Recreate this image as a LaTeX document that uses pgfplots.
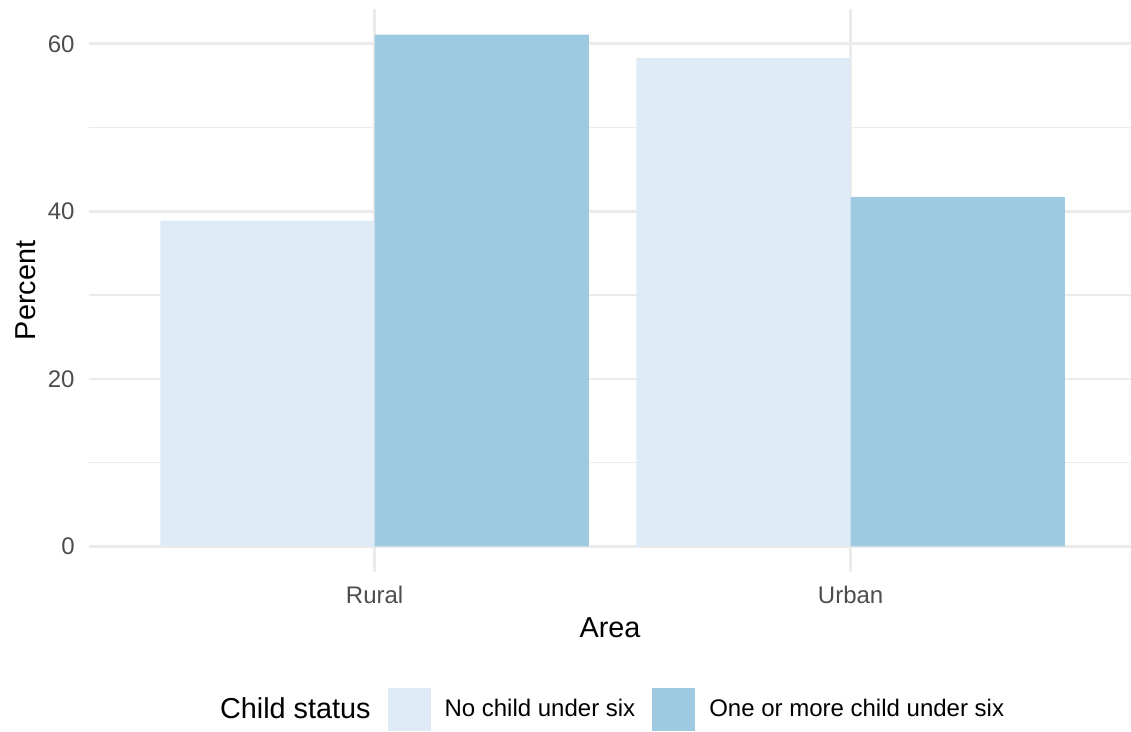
\documentclass[border=0pt]{standalone}
\usepackage{pgfplots}
\pgfplotsset{compat=1.18}
\usepackage{fontspec}
\setmainfont{Liberation Sans}
\definecolor{lightbar}{HTML}{DEEBF7}
\definecolor{darkbar}{HTML}{9ECAE1}
\definecolor{gridc}{HTML}{EBEBEB}
\definecolor{tickc}{HTML}{4D4D4D}
\begin{document}
\begin{tikzpicture}
\begin{axis}[
 at={(0,0)}, anchor=south west,
 scale only axis, width=521pt, height=281.5pt,
 xmin=0.4, xmax=2.589, ymin=-3.055, ymax=64.155,
 axis line style={draw=none},
 major tick length=0pt, minor tick length=0pt,
 xtick={1,2}, xticklabels={Rural,Urban},
 ytick={0,20,40,60}, minor ytick={10,30,50},
 grid=both,
 major grid style={gridc, line width=1.3pt},
 minor grid style={gridc, line width=0.65pt},
 /pgf/number format/assume math mode=true,
 tick label style={font=\fontsize{12}{14}\selectfont, text=tickc, inner sep=0pt},
 xticklabel style={anchor=north, yshift=-7pt},
 yticklabel style={anchor=east, xshift=-7pt},
 xlabel={Area}, ylabel={Percent},
 label style={font=\fontsize{14.4}{17}\selectfont, inner sep=0pt},
 xlabel style={at={(axis description cs:0.5,0)}, anchor=north, yshift=-22.5pt},
 ylabel style={at={(axis description cs:-0.0509,0.5)}, anchor=south},
 legend style={at={(axis description cs:0.502,-0.2442)}, anchor=center,
   draw=none, fill=none, inner sep=0pt, outer sep=0pt,
   font=\fontsize{12}{14}\selectfont, nodes={inner sep=0pt},
   /tikz/column 2/.style={column sep=8.5pt},
   /tikz/column 3/.style={column sep=7pt},
   /tikz/column 4/.style={column sep=8.5pt},
   /tikz/column 5/.style={column sep=7pt}},
 legend columns=-1,
 legend cell align=left,
 legend image code/.code={\fill[#1] (0pt,-10.75pt) rectangle (21.5pt,10.75pt);},
]
\addlegendimage{empty legend}
\addlegendentry{\fontsize{14.4}{17}\selectfont Child status}
\addplot[ybar, bar width=0.45, bar shift=-0.225, fill=lightbar, draw=none]
  coordinates {(1,38.9) (2,58.3)};
\addlegendentry{No child under six}
\addplot[ybar, bar width=0.45, bar shift=0.225, fill=darkbar, draw=none]
  coordinates {(1,61.1) (2,41.7)};
\addlegendentry{One or more child under six}
\end{axis}
\pgfresetboundingbox
\path[use as bounding box] (-44.5pt,-80pt) rectangle (521pt,286pt);
\end{tikzpicture}
\end{document}
